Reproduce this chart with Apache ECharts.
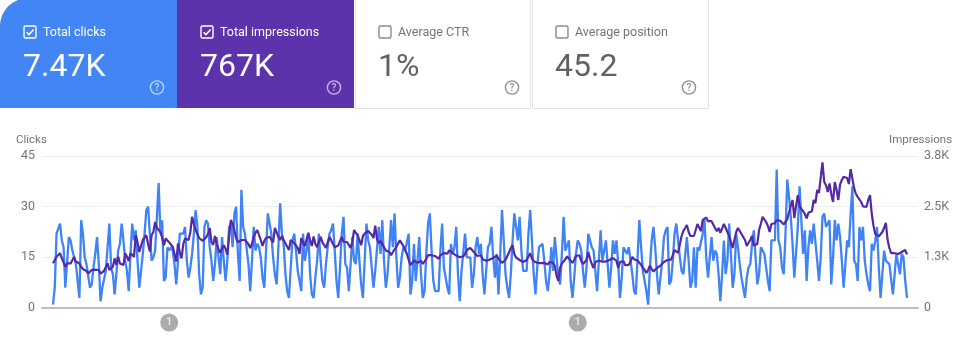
<!DOCTYPE html>
<html>
<head>
<meta charset="utf-8">
<style>html,body{margin:0;padding:0;background:#fff}#c{width:971px;height:354px}</style>
<script src="https://cdn.jsdelivr.net/npm/echarts@6/dist/echarts.min.js"></script>
</head>
<body>
<div id="c"></div>
<script>
var cardLabels = ['Total clicks', 'Total impressions', 'Average CTR', 'Average position'];
var cardValues = ['7.47K', '767K', '1%', '45.2'];
var leftTicks = ['0', '15', '30', '45'];
var rightTicks = ['0', '1.3K', '2.5K', '3.8K'];
var annotationDays = [66, 298];
var clicks = [
1,6,22,22,25,20,18,6,6.5,21,20,17,15,13,8,3,26,22,15,13,13,6,7,12,16,21,13,2,6,6,11,11,25,12,10,4,10,17,19,25,20,14,11,5,
16,25,20,23,14,6,6,16,22,29,30,22,14,15,17,27,37,22,26,8,9,18,17,18,17,13,7,14,22,22,22,24,14,9,
12,16,22,29,24,10,4,6,24,26,25,18,14,8,13,21,15,10,21,14,8,14,24,25,18,28,30,16,8,35,24,22,22,13,5,14,24,17,19,18,15,9,6,17,28,25,22,15,10,7,18,31,22,19,10,5,3,12,20,22,17,11,8,5,22,14,17,22,10,4,3,9,14,22,14,8,6,13,18,22,23,25,17,8,3,
12,22,27,13,12,5,13,21,14,13,22,14,7,3,14,25,20,18,12,6,11,11,24,16,26,14,6,10,18,26,18,28,15,6,9,15,18,17,17,22,4,8,19,8,14,21,10,3,5,16,25,28,17,8,5,5,5,17,25,12,12,6,4,19,16,18,24,10,2,11,11,22,15,15,15,6,10,18,21,16,19,10,4,
11,18,19,24,15,9,16,4,16,29,20,10,6,3,10,20,28,24,20,27,17,11,11,11,22,29,20,10,4,12,18,18,19,14,8,5,10,18,11,21,15,9,7,16,27,17,17,20,8,3,9,16,20,19,17,11,6,12,22,20,18,17,11,5,14,23,14,17,20,13,6,12,20,16,20,13,3,9,18,17,16,18,
18,10,5,4,15,26,18,11,11,5,1,12,20,24,18,10,4,9,14,21,23,24,7,8,14,22,25,25,15,11,10,10,21,14,6,8,18,6,18,17,17,22,26,15,9,15,21,14,17,16,10,2,10,20,10,14,25,16,6,10,22,18,13,9,9,3,9,12,13,19,23,15,7,10,18,17,16,12,8,5,20,20,
20,41,20,18,12,10,22,38,33,27,19,9,9,24,36,26,16,23,8,18,23,19,25,25,14,8,15,27,28,24,24,26,7,15,26,20,25,21,14,6,13,20,18,28,36,14,13,8,24,20,24,14,10,7,5,19,17,20,24,12,3,10,17,14,14,13,13,4,4,16,16,10,16,15,8,3
];
var impressions = [
1120,1130,1280,1300,1370,1240,1140,1030,1115,1090,1115,1160,1280,1160,1115,1115,1030,975,990,925,865,890,950,940,960,960,950,860,910,930,950,1115,950,910,1030,1240,1075,1280,1115,1160,1075,1370,1280,1175,1370,1340,1280,
1820,1650,1400,1550,1700,1750,1820,1600,1410,1820,1900,2150,2000,1950,1900,1750,1570,1740,1700,1640,1600,1530,1350,1160,1615,1400,1240,1600,1740,1730,1700,1900,2280,
2100,1950,1850,1750,1700,1680,1720,1770,1850,2000,1650,1580,1800,1600,1470,1380,1480,1570,1480,1330,1800,2200,2100,1950,1750,1640,1600,1700,1740,1700,1680,1600,1500,1600,1780,1880,1950,1930,1700,1550,1680,1750,1720,1780,1800,1640,2000,2050,1780,1700,1800,1700,1680,1530,1450,1700,1680,1620,1590,1500,1350,1750,1800,1550,1500,1880,1700,1550,1790,1600,1520,1550,1780,1640,1600,1500,1540,1780,1750,1600,1520,1500,1560,1600,
1780,1650,1610,1650,1700,1500,1650,1950,1880,1820,1840,1570,1800,1860,1900,1925,1880,1830,1750,2060,1720,1620,1680,1650,1520,1440,1470,1400,1320,1400,1450,1530,1610,1690,1620,1550,1450,1350,1200,1075,1120,1180,1160,1130,1120,1180,1100,1110,1230,1320,1320,1320,1280,1300,1260,1230,1320,1340,1370,1350,1360,1440,1400,1370,1350,1310,1280,1270,1260,1290,1350,1450,1490,1500,1450,1400,1370,1300,1270,1320,1220,1170,
1180,1200,1210,1210,1250,1280,1310,1230,1180,1130,1110,1200,1300,1390,1500,1570,1350,1260,1230,1200,1210,1150,1130,1200,1290,1370,1230,1170,1150,1130,1140,1120,1130,1130,1100,1090,1150,1180,1130,1050,800,675,1000,1110,1160,1220,1290,1230,1180,1130,1200,1300,1350,1320,1170,1100,1120,1200,1400,1230,1100,1000,1150,1190,1180,1140,1160,1130,1160,1180,1200,1230,1250,1290,1180,1000,1150,1100,1170,1070,1040,1080,
1160,1280,1220,1170,1180,1180,1080,1010,950,880,950,1060,980,910,900,1000,1000,1060,1100,1150,1165,1200,1230,1210,1320,1450,1430,1380,1350,1800,1930,2000,2075,1900,1800,1830,1800,1950,2100,2110,1920,2200,2200,2260,2170,2150,2170,2180,2000,1920,2000,1880,1900,2100,2000,1950,1800,1650,1500,1470,1900,2000,2050,1850,1850,1700,1550,1560,1700,1800,1560,1550,1600,1950,2100,2280,2250,2150,2050,1900,2100,2100,2120,
2200,2240,2180,2130,2090,2100,2220,2240,2550,2700,2250,2550,2820,2550,2480,2420,2350,2240,2380,2420,2420,2700,2620,2950,2880,2850,3640,3150,3070,2900,3115,2850,2650,3150,2950,2700,3090,3200,3280,3300,3250,3100,3470,3470,2990,2850,2780,2760,2650,2540,2530,2530,2700,2820,2350,2050,1850,1800,1790,1830,1900,2000,2130,1700,1500,1370,1350,1370,1330,1350,1340,1400,1440,1450,1340
];

function pairs(a) { return a.map(function (v, i) { return [i, v]; }); }

var cardXs = [0, 177, 355, 532];
var cardW = [177, 177, 176, 177];
var fills = ['#4285f4', '#5c33ab', '#ffffff', '#ffffff'];
var els = [];
cardLabels.forEach(function (label, i) {
  var x = cardXs[i], on = i < 2, fg = on ? '#ffffff' : '#757575';
  els.push({ type: 'rect', shape: { x: x + (on ? 0 : 0.5), y: -2, width: cardW[i] - (on ? 0 : 1), height: on ? 110 : 110.5, r: i === 0 ? [28, 0, 0, 0] : 0 },
    style: { fill: fills[i], stroke: on ? null : '#e3e3e3', lineWidth: 1 } });
  var bx = x + 24, by = 26;
  els.push({ type: 'rect', shape: { x: bx, y: by, width: 12, height: 12, r: 1.5 }, style: { fill: 'none', stroke: on ? '#fff' : '#8a8a8a', lineWidth: 1.4 } });
  if (on) els.push({ type: 'polyline', shape: { points: [[bx + 2.6, by + 6.2], [bx + 5, by + 8.6], [bx + 9.6, by + 3.4]] }, style: { fill: 'none', stroke: '#fff', lineWidth: 1.5 } });
  els.push({ type: 'text', style: { x: x + 43, y: 32.5, text: label, fill: fg, font: '400 12.5px Roboto', verticalAlign: 'middle', align: 'left' } });
  els.push({ type: 'text', style: { x: x + 23, y: 67.5, text: cardValues[i], fill: on ? '#ffffff' : '#5f6368', font: '400 32px Roboto', verticalAlign: 'middle', align: 'left' } });
  var qx = x + 157, qy = 87.5, qc = on ? 'rgba(255,255,255,0.65)' : '#8f8f8f';
  els.push({ type: 'circle', shape: { cx: qx, cy: qy, r: 6.6 }, style: { fill: 'none', stroke: qc, lineWidth: 1.4 } });
  els.push({ type: 'text', style: { x: qx, y: qy + 0.5, text: '?', fill: qc, font: '500 10px Roboto', align: 'center', verticalAlign: 'middle' } });
});

var chart = echarts.init(document.getElementById('c'), null, { renderer: 'canvas' });
var ri = 3800 / 3;
chart.setOption({
  animation: false,
  backgroundColor: '#ffffff',
  textStyle: { fontFamily: 'Roboto' },
  graphic: { elements: els },
  grid: { left: 42, right: 53, top: 156, bottom: 46, containLabel: false },
  xAxis: { type: 'value', min: -6.25, max: 491.25, show: true,
    axisLabel: { show: false }, axisTick: { show: false }, splitLine: { show: false },
    axisLine: { show: true, onZero: false, lineStyle: { color: '#bdbdbd', width: 2 } } },
  yAxis: [
    { type: 'value', min: 0, max: 45, interval: 15, name: 'Clicks', nameGap: 10,
      nameTextStyle: { color: '#757575', fontSize: 11.5, align: 'left', padding: [0, 0, 0, -37] },
      axisLine: { show: false }, axisTick: { show: false },
      axisLabel: { color: '#757575', fontSize: 12.5, margin: 7, padding: [2, 0, 0, 0], formatter: function (v) { return leftTicks[Math.round(v / 15)]; } },
      splitLine: { show: true, lineStyle: { color: '#eeeeee', width: 1 } } },
    { type: 'value', min: 0, max: 3800, interval: ri, name: 'Impressions', nameGap: 10,
      nameTextStyle: { color: '#757575', fontSize: 11.5, align: 'left', padding: [0, 0, 0, -29] },
      axisLine: { show: false }, axisTick: { show: false },
      axisLabel: { color: '#757575', fontSize: 12.5, margin: 6, padding: [2, 0, 0, 0], formatter: function (v) { return rightTicks[Math.round(v / ri)]; } },
      splitLine: { show: false } }
  ],
  series: [
    { name: 'Clicks', type: 'line', yAxisIndex: 0, data: pairs(clicks), showSymbol: false, symbol: 'none', silent: true,
      lineStyle: { color: '#3f83f5', width: 2.3 }, z: 3 },
    { name: 'Impressions', type: 'line', yAxisIndex: 1, data: pairs(impressions), showSymbol: false, symbol: 'none', silent: true,
      lineStyle: { color: '#5329a8', width: 2.2 }, z: 4 },
    { name: 'Annotations', type: 'scatter', yAxisIndex: 0, clip: false, symbolSize: 18, silent: true,
      data: annotationDays.map(function (d) { return [d, -4.3]; }),
      itemStyle: { color: '#969696' },
      label: { show: true, position: 'inside', formatter: '1', color: '#ffffff', fontSize: 11, fontWeight: 500 }, z: 5 }
  ]
});
</script>
</body>
</html>
